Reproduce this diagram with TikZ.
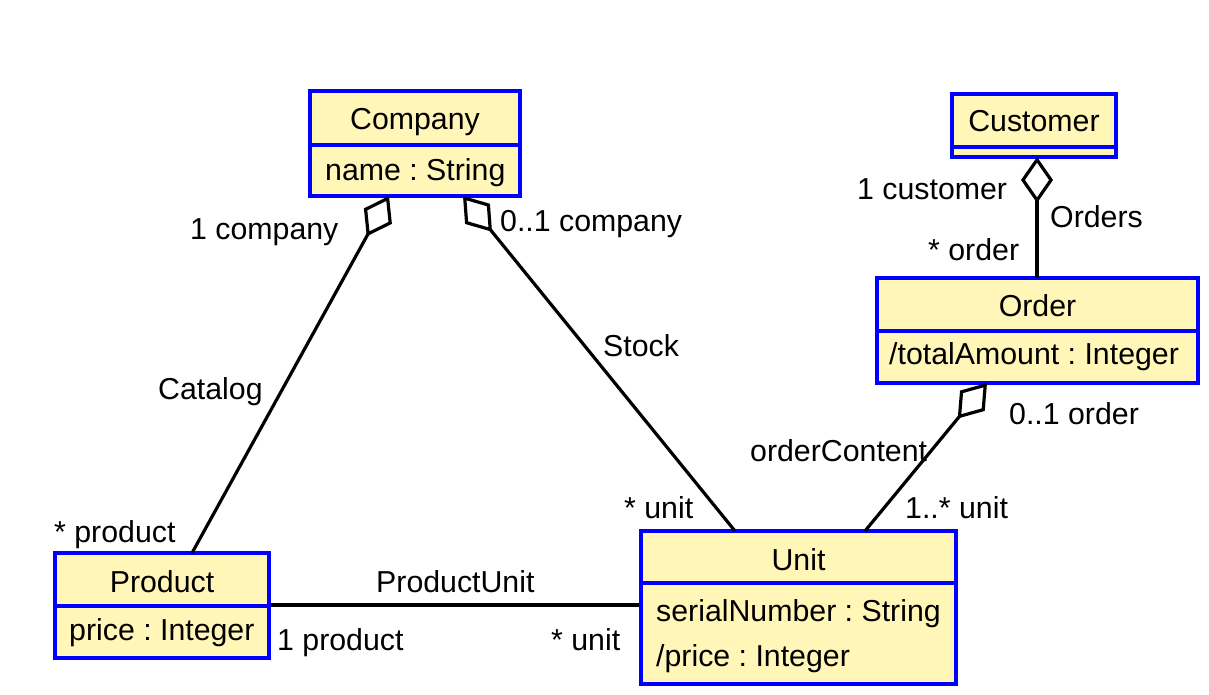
\documentclass[tikz,border=0pt]{standalone}
\usepackage{fontspec}
\setmainfont{Liberation Sans}
\usetikzlibrary{arrows.meta}
\definecolor{classfill}{RGB}{255,246,184}
\definecolor{classblue}{RGB}{0,0,255}
\frenchspacing
\begin{document}
\begin{tikzpicture}[x=1pt,y=-1pt,
  classbox/.style={draw=classblue, fill=classfill, line width=3.5pt, inner sep=0pt},
  divider/.style={draw=classblue, line width=3.5pt},
  txt/.style={inner sep=0pt, font=\fontsize{30.3}{36}\selectfont\frenchspacing},
  ctxt/.style={txt, anchor=base},
  ltxt/.style={txt, anchor=base west},
  conn/.style={line width=3.2pt},
  agg/.style={conn, -{Diamond[open, length=46pt, width=32pt]}}
]
\useasboundingbox (0,0) rectangle (1209,695);

% class boxes
\node[classbox, minimum width=210pt, minimum height=105pt] (company) at (415,143.5) {};
\node[classbox, minimum width=164pt, minimum height=63pt] (customer) at (1034,125.5) {};
\node[classbox, minimum width=321pt, minimum height=105pt] (order) at (1037.5,330.5) {};
\node[classbox, minimum width=214pt, minimum height=105pt] (product) at (162,605.5) {};
\node[classbox, minimum width=315pt, minimum height=153pt] (unit) at (798.5,607.5) {};

% dividers
\draw[divider] (company.west |- 0,145) -- (company.east |- 0,145);
\draw[divider] (customer.west |- 0,147) -- (customer.east |- 0,147);
\draw[divider] (order.west |- 0,331) -- (order.east |- 0,331);
\draw[divider] (product.west |- 0,606) -- (product.east |- 0,606);
\draw[divider] (unit.west |- 0,583) -- (unit.east |- 0,583);

% class texts
\node[ctxt] (companyName) at (415,130) {Company};
\node[ltxt] (companyAttr) at (325,181) {name : String};
\node[ctxt] (customerName) at (1034,132) {Customer};
\node[ctxt] (orderName) at (1037.5,316) {Order};
\node[ltxt] (orderAttr) at (889,364) {/totalAmount : Integer};
\node[ctxt] (productName) at (162,592) {Product};
\node[ltxt] (productAttr) at (69,640) {price : Integer};
\node[ctxt] (unitName) at (798.5,570) {Unit};
\node[ltxt] (unitAttrA) at (656,621) {serialNumber : String};
\node[ltxt] (unitAttrB) at (656,666) {/price : Integer};

% connector end points on the box borders
\coordinate (catTop) at (389,196);
\coordinate (catBot) at (192,553);
\coordinate (stockTop) at (463,196);
\coordinate (stockBot) at (735,531);
\coordinate (ocTop) at (987,383);
\coordinate (ocBot) at (865,531);
\coordinate (ordTop) at (1037,157);
\coordinate (ordBot) at (1037,278);

% connectors
\draw[agg] (catBot) -- (catTop);
\draw[agg] (stockBot) -- (stockTop);
\draw[agg] (ocBot) -- (ocTop);
\draw[agg] (ordBot) -- (ordTop);
\draw[conn] (product.east |- 0,605) -- (unit.west |- 0,605);

% association labels
\node[ltxt] (l1) at (190,239) {1 company};
\node[ltxt] (l2) at (500,231) {0..1 company};
\node[ltxt] (l3) at (158,399) {Catalog};
\node[ltxt] (l4) at (603,356) {Stock};
\node[ltxt] (l5) at (624,518) {* unit};
\node[ltxt] (l6) at (905,518) {1..* unit};
\node[ltxt] (l7) at (750,461) {orderContent};
\node[ltxt] (l8) at (1009,424) {0..1 order};
\node[ltxt] (l9) at (857,200) {1 customer};
\node[ltxt] (l10) at (1050,227) {Orders};
\node[ltxt] (l11) at (928,260) {* order};
\node[ltxt] (l12) at (54,542) {* product};
\node[ltxt] (l13) at (376,592) {ProductUnit};
\node[ltxt] (l14) at (277,650) {1 product};
\node[ltxt] (l15) at (551,650) {* unit};
\end{tikzpicture}
\end{document}
